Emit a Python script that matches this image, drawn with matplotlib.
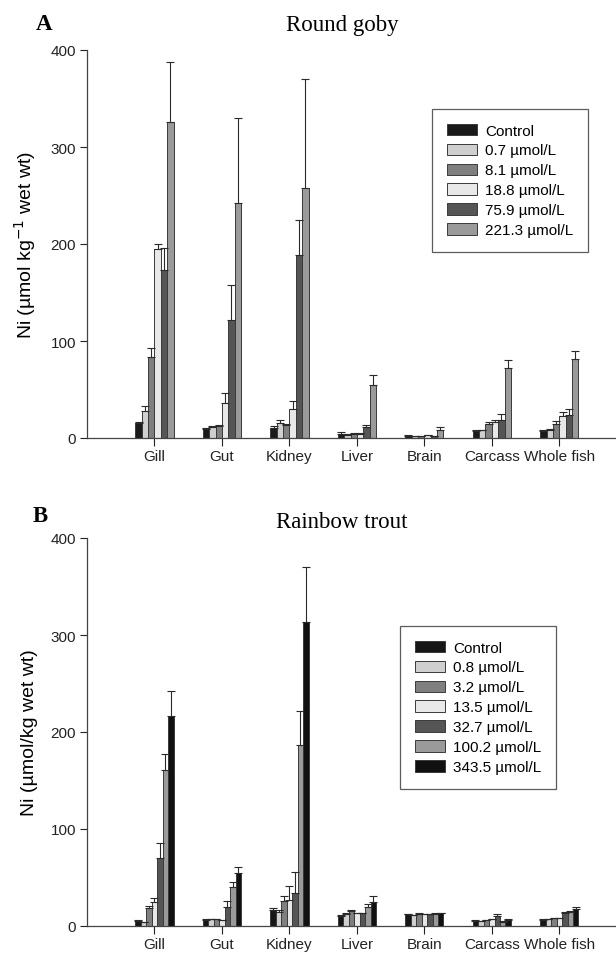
import matplotlib
matplotlib.use("Agg")
import matplotlib.pyplot as plt
import numpy as np

organs = ["Gill", "Gut", "Kidney", "Liver", "Brain", "Carcass", "Whole fish"]

# Panel A: Round goby
goby_labels = ["Control", "0.7 \u00b5mol/L", "8.1 \u00b5mol/L", "18.8 \u00b5mol/L",
               "75.9 \u00b5mol/L", "221.3 \u00b5mol/L"]
goby_colors = ["#1a1a1a", "#cfcfcf", "#7f7f7f", "#e8e8e8", "#555555", "#9a9a9a"]
goby_control = [15, 9, 10, 4, 2, 7, 7]
goby_c07 = [28, 11, 15, 3, 2, 8, 8]
goby_c81 = [84, 12, 13, 4, 2, 14, 14]
goby_c188 = [195, 36, 30, 4, 3, 17, 23]
goby_c759 = [173, 122, 189, 11, 2, 19, 24]
goby_c2213 = [326, 242, 258, 55, 8, 72, 81]
goby_err_control = [1, 1, 2, 2, 1, 1, 1]
goby_err_c07 = [5, 1, 4, 1, 0.5, 0.5, 1]
goby_err_c81 = [9, 1, 1, 1, 0.5, 3, 4]
goby_err_c188 = [5, 10, 8, 1, 0.5, 2, 4]
goby_err_c759 = [23, 36, 36, 2, 0.5, 6, 6]
goby_err_c2213 = [62, 88, 112, 10, 3, 8, 9]

# Panel B: Rainbow trout
trout_labels = ["Control", "0.8 \u00b5mol/L", "3.2 \u00b5mol/L", "13.5 \u00b5mol/L",
                "32.7 \u00b5mol/L", "100.2 \u00b5mol/L", "343.5 \u00b5mol/L"]
trout_colors = ["#161616", "#cfcfcf", "#7f7f7f", "#e8e8e8", "#555555", "#9a9a9a", "#111111"]
trout_control = [5, 6, 16, 10, 12, 5, 6]
trout_c08 = [4, 7, 14, 12, 11, 5, 7]
trout_c32 = [19, 7, 26, 15, 12, 6, 8]
trout_c135 = [25, 6, 27, 13, 12, 7, 8]
trout_c327 = [70, 20, 34, 13, 12, 10, 13]
trout_c1002 = [161, 40, 187, 20, 12, 4, 14]
trout_c3435 = [217, 55, 313, 25, 13, 6, 18]
trout_err_control = [1, 1, 3, 1, 0.5, 1, 1]
trout_err_c08 = [0.5, 0.5, 3, 1, 0.5, 0.5, 0.5]
trout_err_c32 = [2, 0.5, 5, 2, 1, 0.5, 0.5]
trout_err_c135 = [4, 0.5, 14, 0.5, 0.5, 0.5, 0.5]
trout_err_c327 = [16, 6, 22, 0.5, 0.5, 2, 1]
trout_err_c1002 = [16, 5, 35, 3, 1, 1, 1]
trout_err_c3435 = [25, 6, 57, 6, 0.5, 1, 2]

goby_vals = [goby_control, goby_c07, goby_c81, goby_c188, goby_c759, goby_c2213]
goby_errs = [goby_err_control, goby_err_c07, goby_err_c81, goby_err_c188,
             goby_err_c759, goby_err_c2213]
trout_vals = [trout_control, trout_c08, trout_c32, trout_c135, trout_c327,
              trout_c1002, trout_c3435]
trout_errs = [trout_err_control, trout_err_c08, trout_err_c32, trout_err_c135,
              trout_err_c327, trout_err_c1002, trout_err_c3435]

plt.rcParams['font.family'] = ['Liberation Sans', 'DejaVu Sans']

W, H = 616, 954
fig = plt.figure(figsize=(W / 100, H / 100), dpi=100)

def fx(px):
    return px / W

def fy(py):
    return 1 - py / H

ax1 = fig.add_axes([fx(87), fy(439), 1 - fx(87), fy(51) - fy(439)])
ax2 = fig.add_axes([fx(87), fy(927), 1 - fx(87), fy(539) - fy(927)])

def draw(ax, vals, errs, labels, colors, ylabel, legend_bbox):
    n = len(vals)
    group = 0.566
    w = group / n
    x = np.arange(1, len(organs) + 1)
    for i in range(n):
        pos = x - group / 2 + w * (i + 0.5)
        ax.bar(pos, vals[i], width=w, color=colors[i], edgecolor="#3a3a3a",
               linewidth=0.7, label=labels[i], zorder=2)
        ax.errorbar(pos, vals[i], yerr=[np.zeros(len(organs)), errs[i]],
                    fmt="none", ecolor="#2a2a2a", elinewidth=0.8, capsize=3.2,
                    capthick=0.8, zorder=3)
    ax.set_xlim(0, 7.84)
    ax.set_ylim(0, 400)
    ax.set_yticks([0, 100, 200, 300, 400])
    ax.set_xticks(x)
    ax.set_xticklabels(organs, fontsize=11)
    ax.tick_params(axis="y", labelsize=11, length=5, width=0.8, direction="out",
                   colors="#222222", pad=3)
    ax.tick_params(axis="x", length=6, width=0.8, direction="out",
                   colors="#222222", pad=2)
    for s in ["top", "right"]:
        ax.spines[s].set_visible(False)
    for s in ["left", "bottom"]:
        ax.spines[s].set_linewidth(0.9)
        ax.spines[s].set_color("#444444")
    ax.set_ylabel(ylabel, fontsize=14)
    ax.yaxis.set_label_coords(-0.093, 0.5)
    leg = ax.legend(loc="upper left", bbox_to_anchor=legend_bbox, fontsize=11,
                    frameon=True, fancybox=False, edgecolor="#333333",
                    handlelength=2.0, handleheight=0.75, labelspacing=0.39,
                    handletextpad=0.55, borderpad=0.95, borderaxespad=0)
    leg.get_frame().set_linewidth(0.9)

draw(ax1, goby_vals, goby_errs, goby_labels, goby_colors,
     "Ni (\u00b5mol kg$^{-1}$ wet wt)",
     ((432 - 87) / (W - 87), (439 - 110) / (439 - 51)))
draw(ax2, trout_vals, trout_errs, trout_labels, trout_colors,
     "Ni (\u00b5mol/kg wet wt)",
     ((400 - 87) / (W - 87), (927 - 627) / (927 - 539)))

fig.text(fx(342), fy(25), "Round goby", family="Liberation Serif", fontsize=16.5,
         ha="center", va="center")
fig.text(fx(44), fy(25), "A", family="Liberation Serif", fontsize=16.5,
         fontweight="bold", ha="center", va="center")
fig.text(fx(342), fy(523), "Rainbow trout", family="Liberation Serif", fontsize=16.5,
         ha="center", va="center")
fig.text(fx(40), fy(516), "B", family="Liberation Serif", fontsize=16.5,
         fontweight="bold", ha="center", va="center")

fig.savefig("out.png", dpi=100)
